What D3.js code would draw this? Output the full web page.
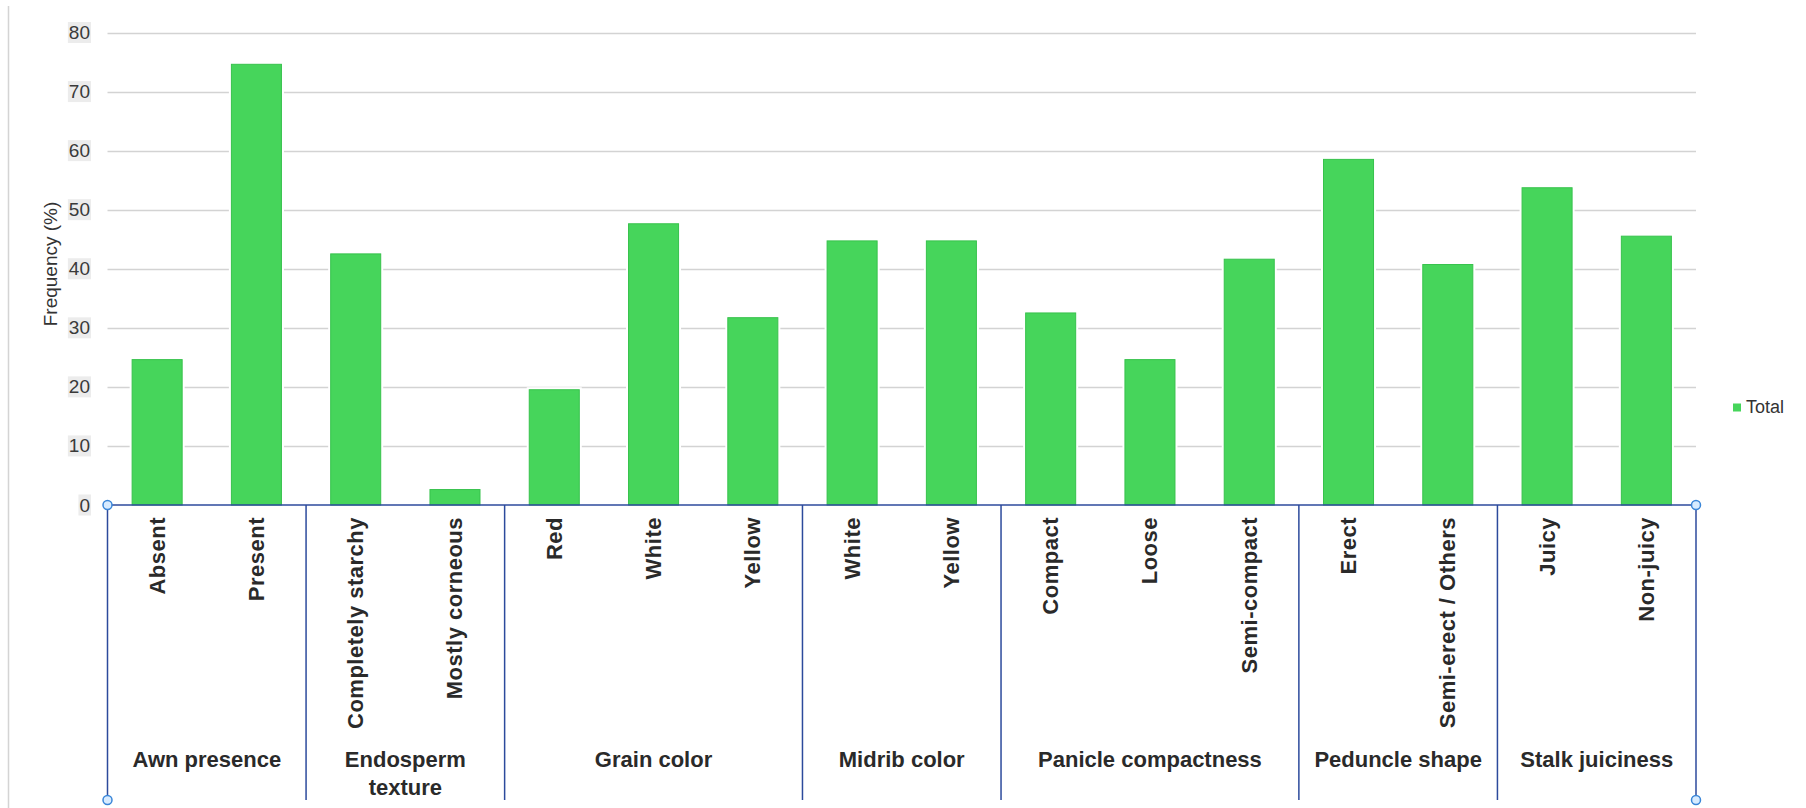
<!DOCTYPE html>
<html>
<head>
<meta charset="utf-8">
<script src="https://cdn.jsdelivr.net/npm/d3@7"></script>
<style>
  html, body { margin: 0; padding: 0; background: #fff; }
  svg { display: block; font-family: "Liberation Sans", Arial, sans-serif; }
</style>
</head>
<body>
<div id="chart"></div>
<script>
(function () {
  // data
  const groups = ["Awn presence", "Endosperm texture", "Grain color", "Midrib color",
    "Panicle compactness", "Peduncle shape", "Stalk juiciness"];
  const categories = ["Absent", "Present", "Completely starchy", "Mostly corneous",
    "Red", "White", "Yellow", "White", "Yellow", "Compact", "Loose", "Semi-compact",
    "Erect", "Semi-erect / Others", "Juicy", "Non-juicy"];
  const categoryGroup = [0, 0, 1, 1, 2, 2, 2, 3, 3, 4, 4, 4, 5, 5, 6, 6];
  const values = [24.7, 74.7, 42.6, 2.7, 19.6, 47.7, 31.8, 44.8, 44.8,
    32.6, 24.7, 41.7, 58.6, 40.8, 53.8, 45.6];
  const yTicks = [0, 10, 20, 30, 40, 50, 60, 70, 80];
  const seriesName = "Total";

  const W = 1806, H = 808;
  const left = 107.5, right = 1696, top = 32.5, base = 505, bottom = 800;
  const barFill = "#46d55b", barStroke = "#37c24c";
  const axisBlue = "#2c4a9c";

  const svg = d3.select("#chart").append("svg")
    .attr("width", W).attr("height", H);

  // faint frame line on the far left
  svg.append("line")
    .attr("x1", 8.5).attr("x2", 8.5).attr("y1", 6).attr("y2", H)
    .attr("stroke", "#d4d4d4").attr("stroke-width", 1.5);

  const x = d3.scaleBand()
    .domain(d3.range(categories.length))
    .range([left, right])
    .paddingInner(0.486)
    .paddingOuter(0.243);

  const y = d3.scaleLinear().domain([0, 80]).range([base, top]);

  // gridlines
  svg.append("g")
    .selectAll("line")
    .data(yTicks.filter(d => d > 0))
    .join("line")
    .attr("x1", left).attr("x2", right)
    .attr("y1", d => Math.round(y(d)) + 0.5).attr("y2", d => Math.round(y(d)) + 0.5)
    .attr("stroke", "#d3d3d3").attr("stroke-width", 1.5);

  // tick labels with their light grey backing
  const tickG = svg.append("g");
  yTicks.forEach(t => {
    const g = tickG.append("g");
    const txt = g.append("text")
      .attr("x", 90).attr("y", y(t))
      .attr("text-anchor", "end")
      .attr("dominant-baseline", "central")
      .attr("font-size", 19)
      .attr("fill", "#3a3a3a")
      .text(t);
    const bb = txt.node().getBBox();
    g.insert("rect", "text")
      .attr("x", bb.x - 1).attr("y", bb.y)
      .attr("width", bb.width + 2).attr("height", bb.height)
      .attr("fill", "#ececec");
  });

  svg.append("text")
    .attr("transform", `translate(50,264) rotate(-90)`)
    .attr("text-anchor", "middle")
    .attr("dominant-baseline", "central")
    .attr("font-size", 19)
    .attr("fill", "#333")
    .text("Frequency (%)");

  // bars: white halo then bar
  const barG = svg.append("g");
  barG.selectAll("rect.halo")
    .data(values)
    .join("rect")
    .attr("class", "halo")
    .attr("x", (d, i) => x(i) - 2)
    .attr("y", d => y(d) - 2)
    .attr("width", x.bandwidth() + 4)
    .attr("height", d => base - y(d) + 2)
    .attr("fill", "#fff");
  barG.selectAll("rect.bar")
    .data(values)
    .join("rect")
    .attr("class", "bar")
    .attr("x", (d, i) => x(i) + 0.5)
    .attr("y", d => y(d) + 0.5)
    .attr("width", x.bandwidth() - 1)
    .attr("height", d => base - y(d) - 0.5)
    .attr("fill", barFill)
    .attr("stroke", barStroke)
    .attr("stroke-width", 1);

  // category labels, rotated
  svg.append("g")
    .selectAll("text")
    .data(categories)
    .join("text")
    .attr("transform", (d, i) => `translate(${x(i) + x.bandwidth() / 2},517) rotate(-90)`)
    .attr("text-anchor", "end")
    .attr("dominant-baseline", "central")
    .attr("font-size", 22)
    .attr("font-weight", "bold")
    .attr("letter-spacing", 0.5)
    .attr("fill", "#2a2a2a")
    .text(d => d);

  // group spans
  const step = x.step();
  const edges = [left];
  groups.forEach((g, gi) => {
    const last = categoryGroup.lastIndexOf(gi);
    edges.push(left + step * (last + 1));
  });
  edges[edges.length - 1] = right;

  svg.append("g")
    .selectAll("line")
    .data(edges)
    .join("line")
    .attr("x1", d => d).attr("x2", d => d)
    .attr("y1", base).attr("y2", bottom)
    .attr("stroke", axisBlue).attr("stroke-width", 1.5);

  // group labels (wrapped when wider than their span)
  const grpG = svg.append("g");
  groups.forEach((g, gi) => {
    const x0 = edges[gi], x1 = edges[gi + 1];
    const cx = (x0 + x1) / 2;
    const t = grpG.append("text")
      .attr("x", cx).attr("y", 759)
      .attr("text-anchor", "middle")
      .attr("dominant-baseline", "central")
      .attr("font-size", 22)
      .attr("font-weight", "bold")
      .attr("fill", "#2a2a2a")
      .text(g);
    if (t.node().getComputedTextLength() > (x1 - x0) - 10) {
      const words = g.split(" ");
      t.text(null);
      words.forEach((w, wi) => {
        t.append("tspan").attr("x", cx).attr("dy", wi === 0 ? 0 : 28).text(w);
      });
    }
  });

  // baseline
  svg.append("line")
    .attr("x1", left).attr("x2", right)
    .attr("y1", base).attr("y2", base)
    .attr("stroke", axisBlue).attr("stroke-width", 1.5);

  // corner handles
  const handles = [[left, base], [right, base], [left, bottom], [right, bottom]];
  svg.append("g")
    .selectAll("circle")
    .data(handles)
    .join("circle")
    .attr("cx", d => d[0]).attr("cy", d => d[1])
    .attr("r", 4.5)
    .attr("fill", "#d7ebff")
    .attr("stroke", "#3a86d8")
    .attr("stroke-width", 1.5);

  // legend
  const leg = svg.append("g").attr("transform", "translate(1733,407)");
  leg.append("rect")
    .attr("x", 0).attr("y", -3.5).attr("width", 8).attr("height", 8)
    .attr("fill", barFill);
  leg.append("text")
    .attr("x", 13).attr("y", 0)
    .attr("dominant-baseline", "central")
    .attr("font-size", 18)
    .attr("fill", "#333")
    .text(seriesName);
})();
</script>
</body>
</html>
